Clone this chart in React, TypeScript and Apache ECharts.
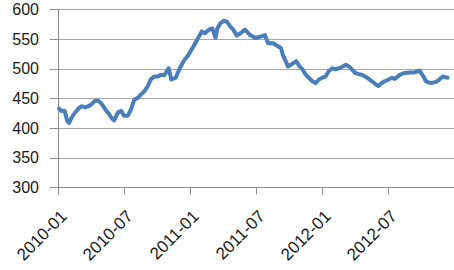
import React, { useEffect, useRef } from "react";
import * as echarts from "echarts";

const dates: string[] = [
  "2010-01-04", "2010-01-11", "2010-01-20", "2010-01-27", "2010-02-01", "2010-02-08", "2010-02-16", "2010-02-25",
  "2010-03-05", "2010-03-16", "2010-03-25", "2010-04-02", "2010-04-12", "2010-04-21", "2010-04-30", "2010-05-10",
  "2010-05-18", "2010-05-27", "2010-06-04", "2010-06-15", "2010-06-24", "2010-07-01", "2010-07-12", "2010-07-21",
  "2010-07-30", "2010-08-09", "2010-08-18", "2010-08-27", "2010-09-06", "2010-09-14", "2010-09-23", "2010-10-04",
  "2010-10-12", "2010-10-21", "2010-10-29", "2010-11-03", "2010-11-10", "2010-11-22", "2010-12-01", "2010-12-14",
  "2010-12-28", "2011-01-11", "2011-01-24", "2011-02-03", "2011-02-11", "2011-02-21", "2011-03-02", "2011-03-11",
  "2011-03-16", "2011-03-25", "2011-04-04", "2011-04-12", "2011-04-21", "2011-04-29", "2011-05-09", "2011-05-19",
  "2011-06-01", "2011-06-15", "2011-06-29", "2011-07-12", "2011-07-26", "2011-08-04", "2011-08-18", "2011-09-01",
  "2011-09-09", "2011-09-14", "2011-09-22", "2011-09-28", "2011-10-07", "2011-10-21", "2011-10-31", "2011-11-08",
  "2011-11-17", "2011-11-25", "2011-12-05", "2011-12-14", "2011-12-23", "2012-01-02", "2012-01-11", "2012-01-20",
  "2012-01-30", "2012-02-07", "2012-02-17", "2012-02-27", "2012-03-06", "2012-03-15", "2012-03-23", "2012-04-02",
  "2012-04-12", "2012-04-20", "2012-05-04", "2012-05-18", "2012-05-28", "2012-06-05", "2012-06-14", "2012-06-22",
  "2012-07-03", "2012-07-12", "2012-07-20", "2012-08-03", "2012-08-17", "2012-08-31", "2012-09-13", "2012-09-27",
  "2012-10-08", "2012-10-15", "2012-10-29", "2012-11-12", "2012-11-21", "2012-11-30", "2012-12-14",
];

const values: number[] = [
  433, 429, 429, 412, 409, 418, 426, 433,
  437, 435, 437, 440, 446, 446, 441, 432,
  426, 418, 413, 427, 429, 421, 421, 432,
  448, 451, 457, 462, 471, 482, 487, 487,
  490, 489, 496, 501, 482, 485, 498, 513,
  524, 538, 552, 563, 560, 566, 568, 552,
  568, 577, 581, 579, 571, 566, 556, 560,
  566, 557, 552, 554, 557, 543, 543, 538,
  535, 524, 513, 504, 507, 513, 504, 499,
  490, 485, 479, 476, 482, 485, 487, 496,
  501, 499, 501, 504, 507, 504, 499, 493,
  491, 490, 485, 479, 474, 471, 476, 479,
  482, 485, 483, 490, 493, 494, 494, 497,
  487, 479, 476, 478, 482, 487, 485,
];

const yTicks: number[] = [300, 350, 400, 450, 500, 550, 600];
const xTickLabels: string[] = ["2010-01", "2010-07", "2011-01", "2011-07", "2012-01", "2012-07"];

const START_YEAR = 2010;

function toMonthIndex(s: string): number {
  const [y, m, d] = s.split("-").map(Number);
  const dim = new Date(Date.UTC(y, m, 0)).getUTCDate();
  return (y - START_YEAR) * 12 + (m - 1) + (d - 1) / dim;
}

function monthLabel(v: number): string {
  if (Math.abs(v - Math.round(v)) > 1e-6 || Math.round(v) % 6 !== 0) return "";
  const idx = Math.round(v) / 6;
  return xTickLabels[idx] ?? "";
}

export default function App() {
  const ref = useRef<HTMLDivElement>(null);

  useEffect(() => {
    document.body.style.margin = "0";
    if (!ref.current) return;
    const chart = echarts.init(ref.current, undefined, { renderer: "svg" });
    const seriesData = dates.map((d, i) => [toMonthIndex(d), values[i]]);
    const axisColor = "#8c8c8c";
    const font = "'Liberation Sans', Arial, sans-serif";
    chart.setOption({
      animation: false,
      backgroundColor: "#ffffff",
      grid: { left: 58, right: -4, top: 9.5, bottom: 82.5, containLabel: false },
      xAxis: {
        type: "value",
        min: 0,
        max: 36,
        interval: 6,
        axisLine: { show: true, lineStyle: { color: axisColor, width: 1 } },
        axisTick: { show: true, inside: false, length: 7, lineStyle: { color: axisColor } },
        splitLine: { show: false },
        axisLabel: {
          rotate: 45,
          margin: 20,
          showMaxLabel: false,
          verticalAlign: "top",
          color: "#1a1a1a",
          fontSize: 17,
          fontFamily: font,
          formatter: (v: number) => monthLabel(v),
        },
      },
      yAxis: {
        type: "value",
        min: yTicks[0],
        max: yTicks[yTicks.length - 1],
        interval: 50,
        axisLine: { show: true, lineStyle: { color: axisColor, width: 1 } },
        axisTick: { show: true, inside: false, length: 8, lineStyle: { color: axisColor } },
        splitLine: { show: true, lineStyle: { color: "#a6a6a6", width: 1 } },
        axisLabel: {
          margin: 19,
          color: "#1a1a1a",
          fontSize: 16,
          fontFamily: font,
        },
      },
      series: [
        {
          type: "line",
          data: seriesData,
          showSymbol: false,
          symbol: "none",
          lineStyle: { color: "#4a7ebb", width: 4, join: "round", cap: "round" },
          itemStyle: { color: "#4a7ebb" },
        },
      ],
    });
    return () => chart.dispose();
  }, []);

  return <div ref={ref} style={{ width: 454, height: 270 }} />;
}
